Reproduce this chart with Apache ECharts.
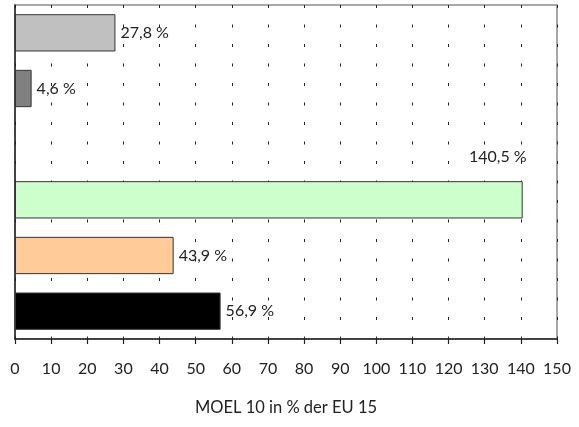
<!DOCTYPE html>
<html>
<head>
<meta charset="utf-8">
<script src="https://cdn.jsdelivr.net/npm/echarts@6/dist/echarts.min.js"></script>
<style>
  html, body { margin: 0; padding: 0; background: #fff; }
  #chart { width: 579px; height: 427px; }
</style>
</head>
<body>
<div id="chart"></div>
<script>
// Category slots from top to bottom; the third slot is left empty.
const categories = ['1', '2', '3', '4', '5', '6'];
const values = [27.8, 4.6, null, 140.5, 43.9, 56.9];
const barColors = ['#c0c0c0', '#808080', '#ffffff', '#ccffcc', '#ffcc99', '#000000'];
const xTicks = [0, 150, 10];
const axisTitle = 'MOEL 10 in % der EU 15';

const FONT = 'Lato, "Liberation Sans", sans-serif';
const fmt = v => v.toFixed(1).replace('.', ',') + ' %';

const data = values.map((v, i) => {
  if (v === null) return '-';
  const item = { value: v, itemStyle: { color: barColors[i] } };
  if (v > 130) {
    // the widest bar carries its label above its right end
    item.label = { position: ['100%', -24], align: 'right', verticalAlign: 'middle', offset: [4, 0] };
  }
  return item;
});

const chart = echarts.init(document.getElementById('chart'), null, { renderer: 'canvas' });
chart.setOption({
  animation: false,
  backgroundColor: '#ffffff',
  grid: {
    left: 15, right: 22, top: 5, bottom: 88,
    show: true, borderColor: '#8c8c8c', borderWidth: 1.5, backgroundColor: 'transparent'
  },
  xAxis: {
    type: 'value',
    min: xTicks[0], max: xTicks[1], interval: xTicks[2],
    name: axisTitle,
    nameLocation: 'middle',
    nameGap: 60,
    nameTextStyle: { fontFamily: FONT, fontSize: 16.5, color: '#222', letterSpacing: 0.4 },
    axisLine: { show: true, lineStyle: { color: '#222', width: 1.5 } },
    axisTick: { show: true, length: 5, inside: false, lineStyle: { color: '#222', width: 1.2 } },
    axisLabel: { margin: 22, fontFamily: FONT, fontSize: 16, color: '#222' },
    splitLine: {
      show: true,
      lineStyle: { color: '#222', width: 1, type: [3, 16.5], dashOffset: 0 }
    }
  },
  yAxis: {
    type: 'category',
    data: categories,
    inverse: true,
    axisLine: { show: true, lineStyle: { color: '#222', width: 1.5 } },
    axisTick: { show: false },
    axisLabel: { show: false },
    splitLine: { show: false }
  },
  series: [{
    type: 'bar',
    data: data,
    barCategoryGap: '33%',
    itemStyle: { borderColor: '#333', borderWidth: 1 },
    label: {
      show: true,
      position: 'right',
      distance: 5,
      fontFamily: FONT,
      fontSize: 16,
      color: '#222',
      formatter: p => fmt(p.value)
    }
  }]
});
</script>
</body>
</html>
